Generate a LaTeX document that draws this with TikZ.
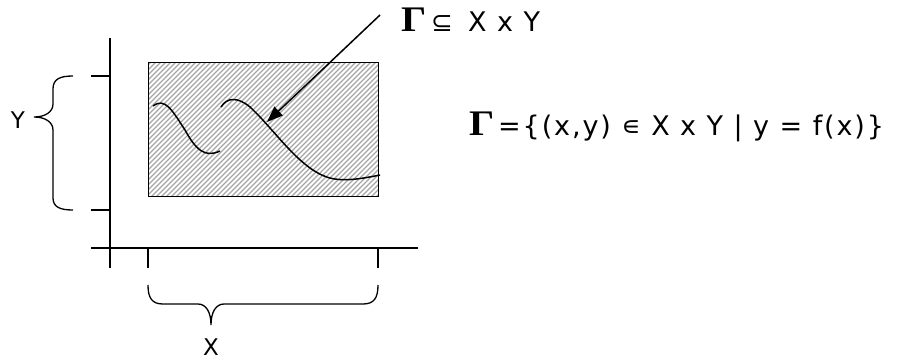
\documentclass[tikz,border=0pt]{standalone}
\usepackage{fontspec}
\setmainfont{DejaVu Sans}
\newfontfamily\gfont{Liberation Serif}
\newfontfamily\sansA[LetterSpace=7]{DejaVu Sans}
\newfontfamily\sansB[LetterSpace=7]{DejaVu Sans}
\usetikzlibrary{arrows.meta}
\newcommand{\bigG}{\scalebox{1.1}[1]{\fontsize{36}{38}\selectfont\gfont\bfseries Γ}}
\begin{document}
\begin{tikzpicture}[x=1pt,y=-1pt,
  axis/.style={line width=1.4pt,black},
  brc/.style={line width=1.3pt,black},
  crv/.style={line width=1.5pt,black},
  hatch/.style={line width=1.1pt,gray!70},
  lbl/.style={inner sep=0pt,anchor=base,font=\fontsize{23}{26}\selectfont}]
\useasboundingbox (0,0) rectangle (916,360);
% hatched rectangle
\begin{scope}
\clip (148,62) rectangle (378,196);
\foreach \i in {0,5,...,380} {
  \draw[hatch] (148+\i-140,200) -- (148+\i,60);
}
\end{scope}
\node[draw,line width=1.3pt,minimum width=230pt,minimum height=134pt,anchor=north west,inner sep=0pt] (R) at (148,62) {};
% axes
\draw[axis] (110,38) -- (110,268);
\draw[axis] (91,248) -- (418,248);
% ticks
\draw[axis] (91,76) -- (110,76);
\draw[axis] (91,210) -- (110,210);
\draw[axis] (148,248) -- (148,268);
\draw[axis] (378,248) -- (378,268);
% braces
\draw[brc] (73,76) .. controls (60,76) and (53,79) .. (53,89) -- (53,104) .. controls (53,112) and (45,117) .. (34,117) .. controls (45,117) and (53,122) .. (53,130) -- (53,198) .. controls (53,207) and (60,210) .. (73,210);
\draw[brc] (148,285) .. controls (148,298) and (152,304) .. (163,304) -- (198,304) .. controls (206,304) and (211,312) .. (211,325) .. controls (211,312) and (216,304) .. (224,304) -- (363,304) .. controls (374,304) and (378,298) .. (378,285);
\node[lbl] (Y) at (18,128) {Y};
\node[lbl] (X) at (211,355) {X};
% curves
\draw[crv] (153,106) .. controls (165,97) and (172,110) .. (185,130) .. controls (196,150) and (205,158) .. (220,151);
\draw[crv] (221,107) .. controls (227,97) and (238,97) .. (250,107) .. controls (275,130) and (300,170) .. (330,178) .. controls (345,182) and (365,178) .. (380,175);
% labels
\node[anchor=base west,inner sep=0pt] (sub) at (401,31) {\makebox[0pt][l]{\bigG}\hspace{30pt}\makebox[0pt][l]{\fontsize{26}{28}\selectfont ⊆}\hspace{37pt}{\fontsize{27}{30}\sansA X x Y}};
\node[anchor=base west,inner sep=0pt] (def) at (469,135) {\makebox[0pt][l]{\bigG}\hspace{29pt}{\fontsize{27}{30}\sansB =\{(x,y) ∊ X x Y | y = f(x)\}}};
\coordinate (a0) at (380,15);
\coordinate (a1) at (267,122);
\draw[line width=1.5pt,-{Triangle[length=16pt,width=12pt]}] (a0) -- (a1);
\end{tikzpicture}
\end{document}
